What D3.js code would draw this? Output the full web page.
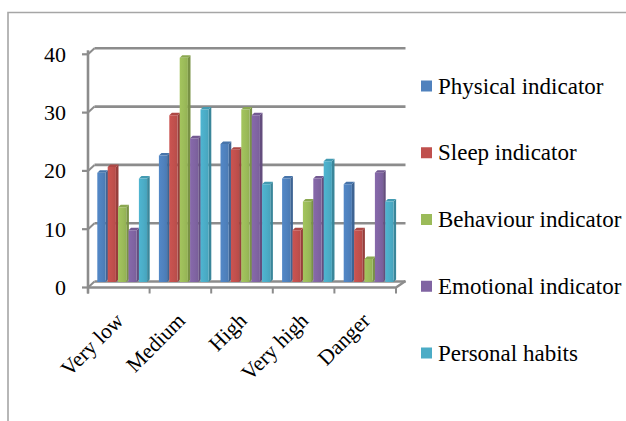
<!DOCTYPE html>
<html>
<head>
<meta charset="utf-8">
<script src="https://cdn.jsdelivr.net/npm/d3@7"></script>
<style>
  html, body { margin: 0; padding: 0; background: #fff; }
  svg { display: block; }
  text { fill: #000; }
</style>
</head>
<body>
<svg id="chart" width="626" height="421"></svg>
<script>
// Risk levels on the category axis
const categories = ["Very low", "Medium", "High", "Very high", "Danger"];

// One array per indicator, one value per risk level
const physical  = [19, 22, 24, 18, 17];
const sleep     = [20, 29, 23,  9,  9];
const behaviour = [13, 39, 30, 14,  4];
const emotional = [ 9, 25, 29, 18, 19];
const habits    = [18, 30, 17, 21, 14];

const seriesNames = ["Physical indicator", "Sleep indicator", "Behaviour indicator",
                     "Emotional indicator", "Personal habits"];
const seriesColors = ["#4F81BD", "#C0504D", "#9BBB59", "#8064A2", "#4BACC6"];
const yTicks = [0, 10, 20, 30, 40];

const series = [physical, sleep, behaviour, emotional, habits].map((vals, i) => ({
  name: seriesNames[i], color: seriesColors[i], values: vals
}));

// Pick the first serif face that is actually installed
function pickFont(candidates, fallback) {
  const ctx = document.createElement("canvas").getContext("2d");
  const probe = "Physical indicator 0123456789 Wwmi";
  const widthIn = f => { ctx.font = `40px ${f}`; return ctx.measureText(probe).width; };
  const baseMono = widthIn("monospace"), baseSans = widthIn("sans-serif");
  for (const name of candidates) {
    const q = `"${name}"`;
    if (widthIn(`${q}, monospace`) !== baseMono || widthIn(`${q}, sans-serif`) !== baseSans) return q;
  }
  return fallback;
}
const serif = pickFont(["Liberation Serif", "Times New Roman", "Tinos", "Times", "Nimbus Roman",
                        "Nimbus Roman No9 L", "DejaVu Serif", "Noto Serif", "FreeSerif", "Georgia"],
                       "serif");
const isSerif = serif !== "serif";

const svg = d3.select("#chart");

// Outer frame (top and left edges visible)
svg.append("path")
  .attr("d", "M8,421 L8,12.5 L626,12.5")
  .attr("fill", "none").attr("stroke", "#a6a6a6").attr("stroke-width", 1.6);

// 3D box: back wall is shifted up-right from the front axis
const depthX = 6.5, depthY = 6;
const frontLeft = 88, frontRight = 396;

const y = d3.scaleLinear().domain([0, 40]).range([281.5, 48.3]);    // back wall
const yBar = d3.scaleLinear().domain([0, 40]).range([282, 52]);     // bars sit mid-depth
const x0 = d3.scaleBand().domain(categories).range([frontLeft, frontRight]);
const x1 = d3.scaleBand().domain(seriesNames).range([0, 52]);

const gridColor = "#8c8c8c";

// Back-wall gridlines
const grid = svg.append("g");
yTicks.forEach(v => {
  const yb = y(v);
  grid.append("line")
    .attr("x1", frontLeft + depthX).attr("x2", frontRight + depthX + 3)
    .attr("y1", yb).attr("y2", yb)
    .attr("stroke", gridColor).attr("stroke-width", 2.6);
  // diagonal linking the front axis tick to the back wall
  grid.append("line")
    .attr("x1", frontLeft).attr("y1", yb + depthY)
    .attr("x2", frontLeft + depthX).attr("y2", yb)
    .attr("stroke", gridColor).attr("stroke-width", 2);
});

// Floor front edge and right edge
grid.append("path")
  .attr("d", `M${frontLeft},${y(0) + depthY} L${frontRight},${y(0) + depthY} L${frontRight + depthX + 3},${y(0) - 0.5}`)
  .attr("fill", "none").attr("stroke", gridColor).attr("stroke-width", 2.4);

// Category tick marks on the floor front edge
const bounds = categories.map(c => x0(c)).concat([frontRight]);
bounds.forEach(bx => {
  grid.append("line")
    .attr("x1", bx).attr("x2", bx)
    .attr("y1", y(0) + depthY).attr("y2", y(0) + depthY + 6)
    .attr("stroke", gridColor).attr("stroke-width", 2);
});

// Front value axis
grid.append("line")
  .attr("x1", frontLeft).attr("x2", frontLeft)
  .attr("y1", y(40) + depthY - 4).attr("y2", y(0) + depthY + 6)
  .attr("stroke", gridColor).attr("stroke-width", 2.6);
yTicks.forEach(v => {
  grid.append("line")
    .attr("x1", frontLeft - 6).attr("x2", frontLeft)
    .attr("y1", y(v) + depthY).attr("y2", y(v) + depthY)
    .attr("stroke", gridColor).attr("stroke-width", 2.2);
});

// Value labels
svg.append("g").selectAll("text").data(yTicks).join("text")
  .attr("x", 66).attr("y", d => y(d) + depthY)
  .attr("text-anchor", "end").attr("dominant-baseline", "central")
  .style("font-family", serif)
  .style("font-size", isSerif ? "22px" : "20px")
  .text(d => d);

// Category labels, rotated
svg.append("g").selectAll("text").data(categories).join("text")
  .attr("text-anchor", "end")
  .style("font-family", serif)
  .style("font-size", isSerif ? "21.5px" : "20px")
  .attr("transform", d => `translate(${x0(d) + x0.bandwidth() / 2 + 6},${322}) rotate(-45)`)
  .text(d => d);

// Gradients for the bar fronts
const defs = svg.append("defs");
series.forEach((s, i) => {
  const g = defs.append("linearGradient").attr("id", "front" + i)
    .attr("x1", "0").attr("x2", "1").attr("y1", "0").attr("y2", "0");
  const c = d3.color(s.color);
  g.append("stop").attr("offset", "0%").attr("stop-color", c.brighter(0.15));
  g.append("stop").attr("offset", "60%").attr("stop-color", c);
  g.append("stop").attr("offset", "100%").attr("stop-color", c.darker(0.15));
});

// 3D bars
const barFront = 8.2, barDepth = 2.6;
const bars = svg.append("g");
categories.forEach((cat, ci) => {
  series.forEach((s, si) => {
    const v = s.values[ci];
    const bx = x0(cat) + 9.3 + x1(s.name);
    const top = yBar(v), base = yBar(0);
    const c = d3.color(s.color);
    const g = bars.append("g");
    // right side face
    g.append("path")
      .attr("d", `M${bx + barFront},${top} L${bx + barFront + barDepth},${top - barDepth} L${bx + barFront + barDepth},${base - barDepth} L${bx + barFront},${base} Z`)
      .attr("fill", c.darker(0.7));
    // top face
    g.append("path")
      .attr("d", `M${bx},${top} L${bx + barDepth},${top - barDepth} L${bx + barFront + barDepth},${top - barDepth} L${bx + barFront},${top} Z`)
      .attr("fill", c.darker(0.3));
    // front face
    g.append("rect")
      .attr("x", bx).attr("y", top)
      .attr("width", barFront).attr("height", base - top)
      .attr("fill", `url(#front${si})`);
  });
});

// Legend
const legendY = d3.scalePoint().domain(seriesNames).range([86, 353]);
const legend = svg.append("g").selectAll("g").data(series).join("g")
  .attr("transform", d => `translate(421,${legendY(d.name)})`);
legend.append("rect")
  .attr("x", 0).attr("y", -5.5).attr("width", 11).attr("height", 11)
  .attr("fill", d => d.color);
legend.append("text")
  .attr("x", 17).attr("y", 0)
  .attr("dominant-baseline", "central")
  .style("font-family", serif)
  .style("font-size", isSerif ? "23px" : "21px")
  .text(d => d.name);
</script>
</body>
</html>
